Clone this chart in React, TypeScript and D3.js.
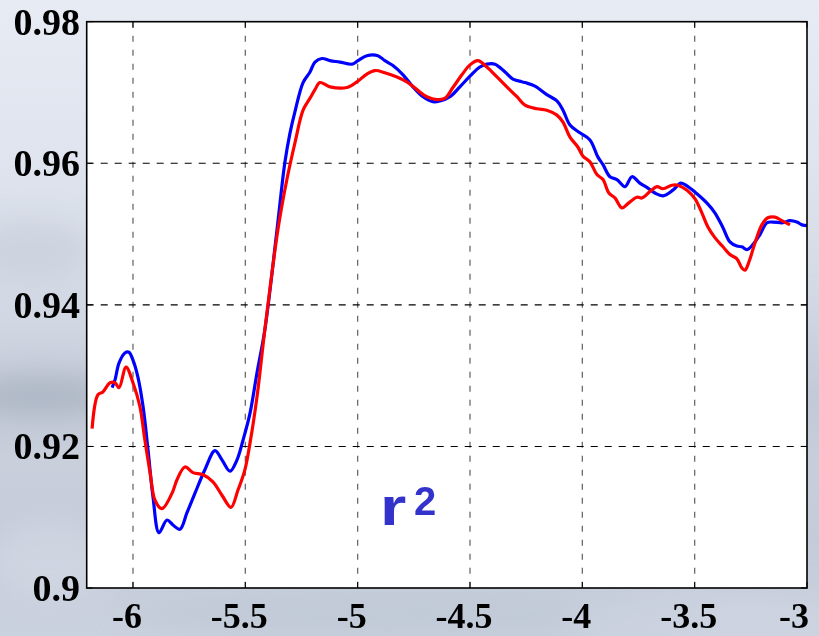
import React from "react";
import * as d3 from "d3";

const xTicks = [-6, -5.5, -5, -4.5, -4, -3.5, -3];
const yTicks = [0.9, 0.92, 0.94, 0.96, 0.98];
const xTickLabels = ["-6", "-5.5", "-5", "-4.5", "-4", "-3.5", "-3"];
const yTickLabels = ["0.9", "0.92", "0.94", "0.96", "0.98"];

const redX = [-6.182, -6.156, -6.134, -6.102, -6.08, -6.062, -6.031, -6.0, -5.969, -5.947, -5.924, -5.902, -5.871, -5.826, -5.804, -5.769, -5.733, -5.688, -5.644, -5.604, -5.564, -5.533, -5.502, -5.479, -5.448, -5.413, -5.355, -5.315, -5.279, -5.243, -5.212, -5.19, -5.168, -5.123, -5.048, -5.003, -4.959, -4.923, -4.879, -4.825, -4.781, -4.736, -4.692, -4.647, -4.611, -4.576, -4.536, -4.5, -4.465, -4.425, -4.38, -4.336, -4.291, -4.255, -4.202, -4.158, -4.113, -4.086, -4.055, -4.02, -3.997, -3.966, -3.935, -3.908, -3.882, -3.855, -3.824, -3.797, -3.757, -3.735, -3.699, -3.668, -3.641, -3.601, -3.575, -3.534, -3.499, -3.468, -3.441, -3.41, -3.374, -3.343, -3.312, -3.29, -3.276, -3.258, -3.232, -3.201, -3.174, -3.143, -3.112, -3.076];
const redY = [0.9225, 0.9273, 0.9277, 0.929, 0.929, 0.9283, 0.9312, 0.929, 0.9256, 0.9209, 0.9163, 0.9124, 0.9112, 0.9134, 0.9153, 0.9171, 0.9163, 0.916, 0.915, 0.9131, 0.9114, 0.9138, 0.9167, 0.9205, 0.927, 0.9365, 0.9506, 0.9577, 0.9629, 0.9675, 0.9692, 0.9704, 0.9714, 0.9708, 0.9707, 0.9715, 0.9726, 0.9731, 0.9728, 0.9722, 0.9715, 0.9704, 0.9694, 0.969, 0.9692, 0.9707, 0.9725, 0.9739, 0.9745, 0.9736, 0.9722, 0.9708, 0.9694, 0.9682, 0.9677, 0.9675, 0.9668, 0.9658, 0.9637, 0.9623, 0.961, 0.9602, 0.9584, 0.9577, 0.9558, 0.9551, 0.9537, 0.9543, 0.9552, 0.9551, 0.956, 0.9567, 0.9564, 0.9569, 0.9569, 0.9562, 0.955, 0.953, 0.951, 0.9495, 0.9482, 0.9471, 0.9465, 0.9452, 0.9449, 0.9461, 0.9487, 0.9513, 0.9523, 0.9524, 0.9519, 0.9513];

const blueX = [-6.093, -6.08, -6.062, -6.036, -6.018, -6.0, -5.978, -5.955, -5.933, -5.911, -5.884, -5.849, -5.822, -5.791, -5.76, -5.724, -5.68, -5.635, -5.604, -5.568, -5.537, -5.51, -5.479, -5.448, -5.413, -5.359, -5.324, -5.301, -5.279, -5.243, -5.212, -5.19, -5.159, -5.123, -5.079, -5.025, -4.999, -4.959, -4.91, -4.879, -4.843, -4.798, -4.754, -4.709, -4.665, -4.634, -4.589, -4.545, -4.5, -4.456, -4.425, -4.389, -4.344, -4.309, -4.255, -4.211, -4.158, -4.113, -4.086, -4.055, -4.011, -3.966, -3.931, -3.908, -3.877, -3.846, -3.81, -3.779, -3.744, -3.708, -3.677, -3.641, -3.597, -3.561, -3.53, -3.49, -3.446, -3.41, -3.374, -3.343, -3.312, -3.29, -3.267, -3.241, -3.21, -3.178, -3.152, -3.107, -3.076, -3.045, -3.022, -3.0];
const blueY = [0.9283, 0.9294, 0.9318, 0.9332, 0.9333, 0.9322, 0.9298, 0.9256, 0.9195, 0.9129, 0.9078, 0.9096, 0.9089, 0.9083, 0.9106, 0.9134, 0.9167, 0.9194, 0.9181, 0.9165, 0.9181, 0.9209, 0.9247, 0.9304, 0.9365, 0.9506, 0.9601, 0.9643, 0.9673, 0.9714, 0.9729, 0.9743, 0.9748, 0.9745, 0.9743, 0.974, 0.9745, 0.9752, 0.9752, 0.9745, 0.9738, 0.9725, 0.9708, 0.9694, 0.9687, 0.9688, 0.9694, 0.9708, 0.9723, 0.9736, 0.974, 0.974, 0.9729, 0.9719, 0.9714, 0.9709, 0.9697, 0.9688, 0.9675, 0.9654, 0.9643, 0.9633, 0.9609, 0.9598, 0.9581, 0.9577, 0.9567, 0.9581, 0.9572, 0.9565, 0.9558, 0.9554, 0.9562, 0.9572, 0.9567, 0.9557, 0.9544, 0.953, 0.9509, 0.9489, 0.9483, 0.9482, 0.9478, 0.9485, 0.9499, 0.9516, 0.9517, 0.9516, 0.9519, 0.9517, 0.9513, 0.9512];

const W = 819;
const H = 636;
const L = 86.7, R = 807, T = 21.7, B = 588;

export default function App() {
  const x = d3.scaleLinear().domain([-6.206, -3]).range([L, R]);
  const y = d3.scaleLinear().domain([0.9, 0.98]).range([B, T]);
  const line = d3
    .line<[number, number]>()
    .x((d) => x(d[0]))
    .y((d) => y(d[1]))
    .curve(d3.curveCatmullRom.alpha(0.5));
  const red = line(redX.map((v, i) => [v, redY[i]]) as [number, number][]) || "";
  const blue = line(blueX.map((v, i) => [v, blueY[i]]) as [number, number][]) || "";
  const serif = "'Liberation Serif', 'Times New Roman', serif";
  const sans = "'Liberation Sans', Arial, sans-serif";

  return (
    <svg width={W} height={H} style={{ position: "absolute", left: 0, top: 0 }}>
      <defs>
        <linearGradient id="sky" x1="0" y1="0" x2="0" y2="1">
          <stop offset="0" stopColor="#e7ebf4" />
          <stop offset="0.25" stopColor="#dfe4ee" />
          <stop offset="0.5" stopColor="#d2d8e3" />
          <stop offset="0.63" stopColor="#c2c9d6" />
          <stop offset="0.72" stopColor="#c9d0dc" />
          <stop offset="0.85" stopColor="#c5ccd9" />
          <stop offset="1" stopColor="#cbd2df" />
        </linearGradient>
        <filter id="blur" x="-50%" y="-50%" width="200%" height="200%">
          <feGaussianBlur stdDeviation="14" />
        </filter>
      </defs>
      <rect x={0} y={0} width={W} height={H} fill="url(#sky)" />
      <g filter="url(#blur)">
        <ellipse cx={40} cy={395} rx={70} ry={20} fill="#a3adbd" opacity={0.65} />
        <ellipse cx={30} cy={250} rx={60} ry={30} fill="#c6cdd9" opacity={0.6} />
        <ellipse cx={50} cy={560} rx={60} ry={40} fill="#d4dae6" opacity={0.6} />
        <ellipse cx={420} cy={615} rx={300} ry={25} fill="#bac3d1" opacity={0.5} />
        <ellipse cx={700} cy={620} rx={140} ry={20} fill="#d0d7e3" opacity={0.6} />
        <ellipse cx={813} cy={420} rx={8} ry={120} fill="#c4cbd8" opacity={0.7} />
      </g>
      <rect x={L} y={T} width={R - L} height={B - T} fill="#ffffff" />

      {xTicks.slice(0, -1).map((t) => (
        <line key={"gx" + t} x1={x(t)} x2={x(t)} y1={T} y2={B} stroke="#6b6b6b" strokeWidth={1.3} strokeDasharray="6,8" />
      ))}
      {yTicks.slice(1, -1).map((t) => (
        <line key={"gy" + t} x1={L} x2={R} y1={y(t)} y2={y(t)} stroke="#000" strokeWidth={1.1} strokeDasharray="7,7" />
      ))}

      <path d={blue} fill="none" stroke="#0000ff" strokeWidth={3.2} strokeLinejoin="round" />
      <path d={red} fill="none" stroke="#ff0000" strokeWidth={3.2} strokeLinejoin="round" />

      {xTicks.map((t) => (
        <g key={"tx" + t}>
          <line x1={x(t)} x2={x(t)} y1={B} y2={B - 6} stroke="#000" strokeWidth={1} />
          <line x1={x(t)} x2={x(t)} y1={T} y2={T + 6} stroke="#000" strokeWidth={1} />
        </g>
      ))}
      {yTicks.map((t) => (
        <g key={"ty" + t}>
          <line x1={L} x2={L + 6} y1={y(t)} y2={y(t)} stroke="#000" strokeWidth={1} />
          <line x1={R} x2={R - 6} y1={y(t)} y2={y(t)} stroke="#000" strokeWidth={1} />
        </g>
      ))}
      <rect x={L} y={T} width={R - L} height={B - T} fill="none" stroke="#000" strokeWidth={1.6} />

      {yTicks.map((t, i) => (
        <text key={"ly" + t} x={80} y={y(t) + 13} textAnchor="end" fontFamily={serif} fontWeight="bold" fontSize={38} fill="#000">
          {yTickLabels[i]}
        </text>
      ))}
      {xTicks.map((t, i) => (
        <text key={"lx" + t} x={Math.min(x(t) - 6, 794)} y={628} textAnchor="middle" fontFamily={serif} fontWeight="bold" fontSize={36} fill="#000">
          {xTickLabels[i]}
        </text>
      ))}

      <text transform="translate(380,525) scale(1.25,1)" fontFamily={sans} fontWeight="bold" fontSize={54} fill="#3333cc">
        r
      </text>
      <text x={414} y={515} fontFamily={sans} fontWeight="bold" fontSize={40} fill="#3333cc">
        2
      </text>
    </svg>
  );
}
